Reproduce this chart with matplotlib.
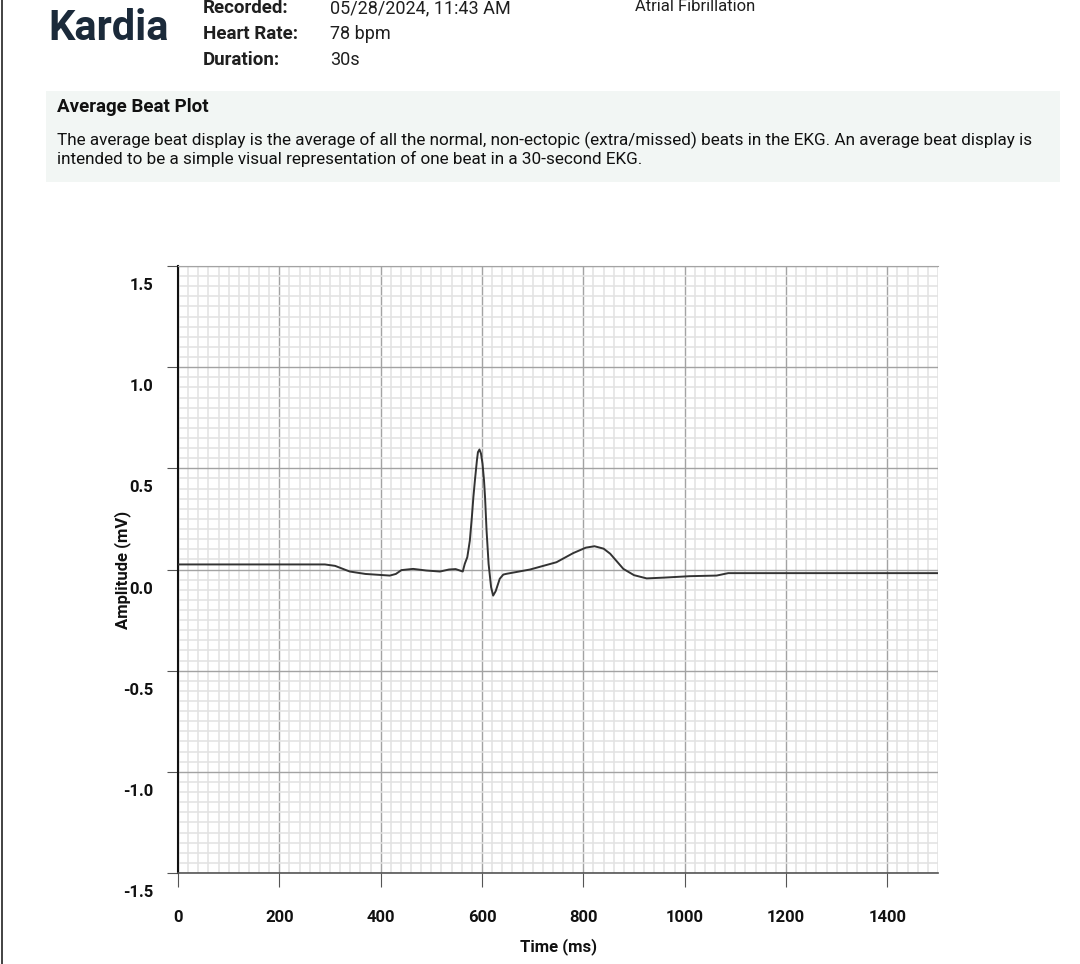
from matplotlib import pyplot as plt
from matplotlib.ticker import MultipleLocator
from matplotlib.patches import Rectangle
from matplotlib.lines import Line2D
import matplotlib.transforms as mtransforms

plt.rcParams['font.family'] = ['Roboto', 'DejaVu Sans']

# average beat trace (ms, mV)
time_ms = [0, 290, 310, 339, 370, 418, 430, 441, 464, 490, 517, 535, 548, 562,
           566, 571, 576, 580, 583, 586, 590, 592, 595, 598, 601, 604, 606, 609,
           613, 618, 622, 627, 635, 642, 649, 695, 747, 780, 805, 822, 840, 853,
           879, 900, 925, 960, 1010, 1063, 1086, 1500]
amp_mv = [0.025, 0.025, 0.018, -0.010, -0.022, -0.030, -0.022, -0.003, 0.003,
          -0.005, -0.010, 0.000, 0.002, -0.010, 0.028, 0.061, 0.143, 0.259,
          0.358, 0.440, 0.540, 0.580, 0.593, 0.573, 0.523, 0.440, 0.358, 0.193,
          0.028, -0.088, -0.129, -0.107, -0.046, -0.025, -0.021, 0.000, 0.036,
          0.081, 0.108, 0.115, 0.103, 0.078, 0.003, -0.028, -0.044, -0.040,
          -0.033, -0.030, -0.018, -0.018]

x_ticks = [0, 200, 400, 600, 800, 1000, 1200, 1400]
y_ticks = [-1.5, -1.0, -0.5, 0.0, 0.5, 1.0, 1.5]

header_labels = ["Recorded:", "Heart Rate:", "Duration:"]
header_values = ["05/28/2024, 11:43 AM", "78 bpm", "30s"]
rhythm = "Atrial Fibrillation"
desc = ("The average beat display is the average of all the normal, non-ectopic "
        "(extra/missed) beats in the EKG. An average beat display is\n"
        "intended to be a simple visual representation of one beat in a "
        "30-second EKG.")

W, H = 1080, 964
fig = plt.figure(figsize=(W / 100, H / 100), dpi=100)

def fy(py):
    return 1 - py / H

# header
fig.text(48 / W, fy(40), "Kardia", fontsize=30, fontweight='bold',
         color='#1b2a3a', va='baseline')
for i, (lab, val) in enumerate(zip(header_labels, header_values)):
    base = 13 + 26 * i
    fig.text(203 / W, fy(base), lab, fontsize=13.5, fontweight='bold',
             color='#1f1f1f', va='baseline')
    fig.text(330 / W, fy(base), val, fontsize=13, color='#1f1f1f',
             va='baseline')
fig.text(635 / W, fy(11), rhythm, fontsize=12, color='#1f1f1f', va='baseline')

# info box
fig.patches.append(Rectangle((46 / W, fy(182)), (1060 - 46) / W, (182 - 91) / H,
                             transform=fig.transFigure, facecolor='#f2f6f4',
                             edgecolor='none', zorder=0))
fig.text(57 / W, fy(107), "Average Beat Plot", fontsize=13.5, fontweight='bold',
         color='#111111', va='center')
fig.text(57 / W, fy(132), desc, fontsize=12.3, color='#111111', va='top',
         linespacing=1.12)

# left page border
fig.add_artist(Line2D([1.5 / W, 1.5 / W], [0, 1], transform=fig.transFigure,
                      color='#222222', lw=1.2))

ax = fig.add_axes([178 / W, 91 / H, 760 / W, 607 / H])
ax.plot(time_ms, amp_mv, color='#333333', lw=1.4, zorder=3)
ax.set_xlim(0, 1500)
ax.set_ylim(-1.5, 1.5)
ax.set_xticks(x_ticks)
ax.set_yticks(y_ticks)
ax.xaxis.set_minor_locator(MultipleLocator(20))
ax.yaxis.set_minor_locator(MultipleLocator(0.05))
ax.grid(which='minor', color='#e2e2e2', lw=1.1, zorder=0)
ax.grid(which='major', color='#a3a3a3', lw=1.0, zorder=1)
ax.set_axisbelow(True)

ax.spines['right'].set_visible(False)
ax.spines['top'].set_color('#a3a3a3')
ax.spines['left'].set_color('#111111')
ax.spines['left'].set_linewidth(1.5)
ax.spines['bottom'].set_color('#555555')
ax.spines['bottom'].set_linewidth(1.2)

ax.tick_params(which='minor', length=0)
ax.tick_params(axis='x', which='major', length=10, color='#555555', pad=17,
               labelsize=12)
ax.tick_params(axis='y', which='major', length=8, color='#555555', pad=10,
               labelsize=12)
ax.set_yticklabels([f"{v:.1f}" for v in y_ticks])
offset = mtransforms.ScaledTranslation(0, -0.18, fig.dpi_scale_trans)
for lab in ax.get_yticklabels():
    lab.set_transform(lab.get_transform() + offset)
for lab in ax.get_xticklabels() + ax.get_yticklabels():
    lab.set_fontweight('bold')
    lab.set_color('#111111')

ax.set_xlabel("Time (ms)", fontsize=12, fontweight='bold', color='#111111')
ax.xaxis.set_label_coords(0.5, -0.108)
ax.set_ylabel("Amplitude (mV)", fontsize=12, fontweight='bold', color='#111111')
ax.yaxis.set_label_coords(-0.062, 0.5)

fig.savefig("out.png", dpi=100)
